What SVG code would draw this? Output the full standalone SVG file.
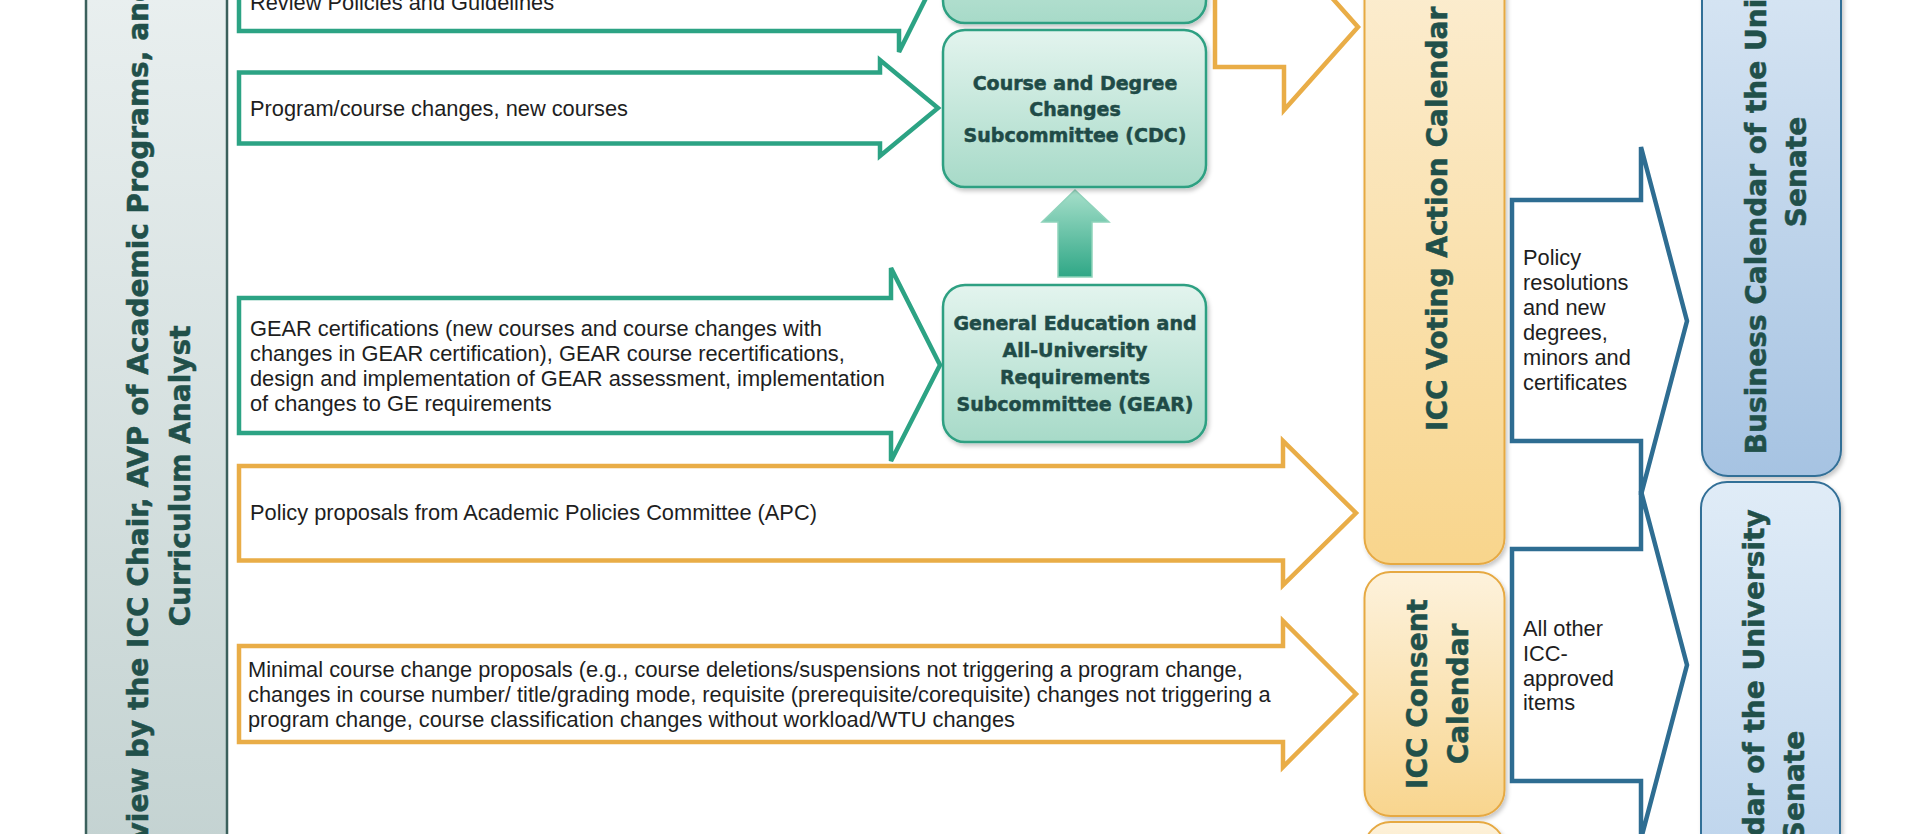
<svg xmlns="http://www.w3.org/2000/svg" width="1920" height="834" viewBox="0 0 1920 834">
<defs>
<linearGradient id="gBar" x1="0" y1="0" x2="0" y2="1"><stop offset="0" stop-color="#eaf0f0"/><stop offset="1" stop-color="#c3d2d1"/></linearGradient>
<linearGradient id="gGreen" x1="0" y1="0" x2="0" y2="1"><stop offset="0" stop-color="#e3f4ee"/><stop offset="1" stop-color="#a7dac8"/></linearGradient>
<linearGradient id="gVote" x1="0" y1="0" x2="0" y2="1"><stop offset="0" stop-color="#fcefd6"/><stop offset="1" stop-color="#f8d58c"/></linearGradient>
<linearGradient id="gCons" x1="0" y1="0" x2="0" y2="1"><stop offset="0" stop-color="#fdf2dc"/><stop offset="1" stop-color="#f8d58e"/></linearGradient>
<linearGradient id="gBlue1" x1="0" y1="0" x2="0" y2="1"><stop offset="0" stop-color="#e2edf7"/><stop offset="1" stop-color="#a6c3e2"/></linearGradient>
<linearGradient id="gBlue2" x1="0" y1="0" x2="0" y2="1"><stop offset="0" stop-color="#e0ecf7"/><stop offset="1" stop-color="#b3cde9"/></linearGradient>
<linearGradient id="gUp" x1="0" y1="0" x2="0" y2="1"><stop offset="0" stop-color="#a6dfca"/><stop offset="1" stop-color="#2fa786"/></linearGradient>
<filter id="sh" x="-10%" y="-10%" width="130%" height="130%"><feDropShadow dx="2" dy="3" stdDeviation="2" flood-color="#000" flood-opacity="0.22"/></filter>
</defs>
<style>
.lbl{font-family:"Liberation Sans",Arial,sans-serif;font-size:21.8px;fill:#1e1e1e}
.hd{font-family:"DejaVu Sans",Verdana,sans-serif;font-weight:bold;font-size:19px;fill:#1f4b47;stroke:#1f4b47;stroke-width:0.5;text-anchor:middle}
.vt{font-family:"DejaVu Sans",Verdana,sans-serif;font-weight:bold;font-size:28px;fill:#21504a;stroke:#21504a;stroke-width:0.5}
.ga{fill:#fff;stroke:#2ca384;stroke-width:4.5;stroke-linejoin:miter}
.oa{fill:#fff;stroke:#e9ad47;stroke-width:4.5;stroke-linejoin:miter}
.ba{fill:#fff;stroke:#2e6d92;stroke-width:4.5;stroke-linejoin:miter}
.gbox{fill:url(#gGreen);stroke:#2ea082;stroke-width:2.5;filter:url(#sh)}
.obox{stroke:#e6a943;stroke-width:2;filter:url(#sh)}
.bbox{stroke:#336f97;stroke-width:2;filter:url(#sh)}
</style>
<rect width="1920" height="834" fill="#fff"/>

<g id="review-bar">
<rect x="86" y="-30" width="141" height="900" fill="url(#gBar)" stroke="#3b605c" stroke-width="2.5"/>
<text class="vt" transform="translate(148,881) rotate(-90)">Review by the ICC Chair, AVP of Academic Programs, and</text>
<text class="vt" text-anchor="middle" transform="translate(190,476) rotate(-90)">Curriculum Analyst</text>
</g>

<g id="connectors">
<polygon class="ga" points="239,-80 239,31 899,31 899,52 930,-10 899,-72 899,-80"/>
<polygon class="ga" points="239,72.5 880,72.5 880,60 938,108 880,156 880,143.5 239,143.5"/>
<polygon class="ga" points="239,298 891,298 891,268 940,365 891,461 891,433 239,433"/>
<polygon class="oa" points="239,466 1283,466 1283,441 1356,513 1283,585 1283,560.5 239,560.5"/>
<polygon class="oa" points="239,646 1283,646 1283,621 1356,694 1283,767 1283,742 239,742"/>
<polygon class="oa" points="1215,-13 1284,-13 1284,-56 1358,27 1284,110 1284,67 1215,67"/>
<polygon class="ba" points="1512,200 1641,200 1641,147 1687,321 1641,495 1641,441 1512,441"/>
<polygon class="ba" points="1512,549 1641,549 1641,491 1687,665 1641,839 1641,781 1512,781"/>
<polygon points="1075,190 1109,222 1092,222 1092,277 1058,277 1058,222 1042,222" fill="url(#gUp)" stroke="#8fd3bb" stroke-width="1.5"/>
</g>

<g id="arrow-labels">
<text class="lbl" x="250" y="10">Review Policies and Guidelines</text>
<text class="lbl" x="250" y="116">Program/course changes, new courses</text>
<text class="lbl" x="250" y="335.5">GEAR certifications (new courses and course changes with</text>
<text class="lbl" x="250" y="360.5">changes in GEAR certification), GEAR course recertifications,</text>
<text class="lbl" x="250" y="385.5">design and implementation of GEAR assessment, implementation</text>
<text class="lbl" x="250" y="410.5">of changes to GE requirements</text>
<text class="lbl" x="250" y="520">Policy proposals from Academic Policies Committee (APC)</text>
<text class="lbl" x="248" y="677">Minimal course change proposals (e.g., course deletions/suspensions not triggering a program change,</text>
<text class="lbl" x="248" y="702">changes in course number/ title/grading mode, requisite (prerequisite/corequisite) changes not triggering a</text>
<text class="lbl" x="248" y="727">program change, course classification changes without workload/WTU changes</text>
<text class="lbl" x="1523" y="265">Policy</text>
<text class="lbl" x="1523" y="290">resolutions</text>
<text class="lbl" x="1523" y="315">and new</text>
<text class="lbl" x="1523" y="340">degrees,</text>
<text class="lbl" x="1523" y="365">minors and</text>
<text class="lbl" x="1523" y="390">certificates</text>
<text class="lbl" x="1523" y="636">All other</text>
<text class="lbl" x="1523" y="661">ICC-</text>
<text class="lbl" x="1523" y="686">approved</text>
<text class="lbl" x="1523" y="710">items</text>
</g>

<g id="top-subcommittee">
<rect class="gbox" x="943" y="-140" width="263" height="163" rx="22"/>
</g>

<g id="cdc">
<rect class="gbox" x="943" y="30" width="263" height="157" rx="22"/>
<text class="hd" x="1075" y="90">Course and Degree</text>
<text class="hd" x="1075" y="116">Changes</text>
<text class="hd" x="1075" y="142">Subcommittee (CDC)</text>
</g>

<g id="gear">
<rect class="gbox" x="943" y="285" width="263" height="157" rx="22"/>
<text class="hd" x="1075" y="330">General Education and</text>
<text class="hd" x="1075" y="357">All-University</text>
<text class="hd" x="1075" y="384">Requirements</text>
<text class="hd" x="1075" y="411">Subcommittee (GEAR)</text>
</g>

<g id="voting">
<rect class="obox" x="1364.5" y="-80" width="140" height="644" rx="26" fill="url(#gVote)"/>
<text class="vt" transform="translate(1447,431) rotate(-90)">ICC Voting Action Calendar</text>
</g>

<g id="consent">
<rect class="obox" x="1364.5" y="572" width="140" height="244" rx="26" fill="url(#gCons)"/>
<text class="vt" text-anchor="middle" transform="translate(1427,694) rotate(-90)">ICC Consent</text>
<text class="vt" text-anchor="middle" transform="translate(1468,694) rotate(-90)">Calendar</text>
</g>

<g id="lower-calendar">
<rect class="obox" x="1364.5" y="822" width="140" height="120" rx="26" fill="url(#gCons)"/>
</g>

<g id="business-calendar">
<rect class="bbox" x="1702" y="-140" width="139" height="616" rx="26" fill="url(#gBlue1)"/>
<text class="vt" text-anchor="middle" transform="translate(1766,172) rotate(-90)">Business Calendar of the University</text>
<text class="vt" text-anchor="middle" transform="translate(1806,172) rotate(-90)">Senate</text>
</g>

<g id="consent-calendar-senate">
<rect class="bbox" x="1701" y="482" width="139" height="500" rx="26" fill="url(#gBlue2)"/>
<text class="vt" text-anchor="middle" transform="translate(1764,786) rotate(-90)">Consent Calendar of the University</text>
<text class="vt" text-anchor="middle" transform="translate(1804,786) rotate(-90)">Senate</text>
</g>
</svg>
